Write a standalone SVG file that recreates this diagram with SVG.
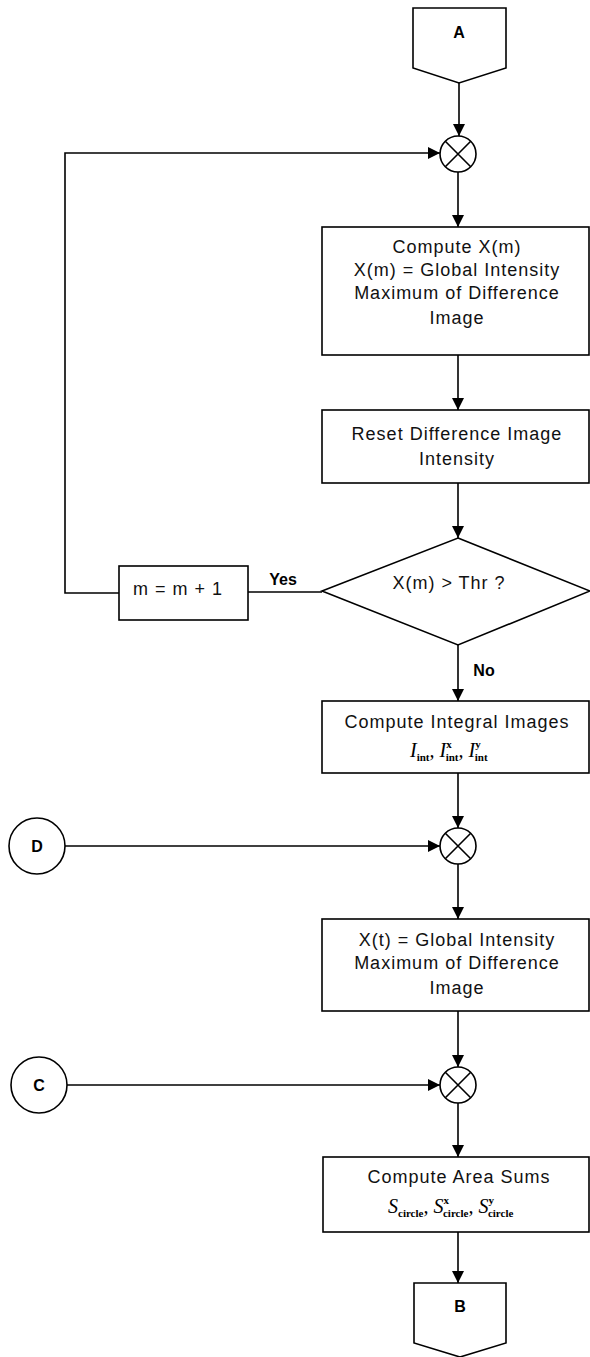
<svg xmlns="http://www.w3.org/2000/svg" width="590" height="1357" viewBox="0 0 590 1357">
<style>
.s{fill:#fff;stroke:#000;stroke-width:1.6}
.c{fill:none;stroke:#000;stroke-width:1.6}
.t{font-family:"Liberation Sans",Arial,sans-serif;font-size:18px;letter-spacing:1px;fill:#111;text-anchor:middle}
.b{font-family:"Liberation Sans",Arial,sans-serif;font-size:16px;font-weight:bold;fill:#000;text-anchor:middle}
.m{font-family:"Liberation Serif","Times New Roman",serif;font-style:italic;font-size:20px;fill:#000}
.sub{font-size:11px;font-style:normal;font-weight:bold}
</style>
<defs>
<marker id="ar" viewBox="0 0 12 12" refX="12" refY="6" markerWidth="12" markerHeight="12" markerUnits="userSpaceOnUse" orient="auto">
<path d="M0,0 L12,6 L0,12 Z" fill="#000"/>
</marker>
</defs>
<rect width="590" height="1357" fill="#fff"/>
<g id="connectors">
<path class="c" d="M459,83 V136" marker-end="url(#ar)"/>
<path class="c" d="M119,593 H65 V153 H440" marker-end="url(#ar)"/>
<path class="c" d="M458,172 V227" marker-end="url(#ar)"/>
<path class="c" d="M458,355 V410" marker-end="url(#ar)"/>
<path class="c" d="M458,483 V538" marker-end="url(#ar)"/>
<path class="c" d="M322,592 H248"/>
<path class="c" d="M458,645 V701" marker-end="url(#ar)"/>
<path class="c" d="M458,773 V828" marker-end="url(#ar)"/>
<path class="c" d="M65,846 H440" marker-end="url(#ar)"/>
<path class="c" d="M458,864 V919" marker-end="url(#ar)"/>
<path class="c" d="M458,1011 V1067" marker-end="url(#ar)"/>
<path class="c" d="M67,1085 H440" marker-end="url(#ar)"/>
<path class="c" d="M458,1103 V1157" marker-end="url(#ar)"/>
<path class="c" d="M458,1232 V1283" marker-end="url(#ar)"/>
<text class="b" x="283" y="585">Yes</text>
<text class="b" x="484" y="676">No</text>
</g>
<g id="offpageA">
<path class="s" d="M413,8 H506 V68 L459,83 L413,68 Z"/>
<text class="b" x="459" y="38">A</text>
</g>
<g id="junction1">
<circle class="s" cx="458" cy="154" r="18"/>
<path class="c" d="M445.3,141.3 L470.7,166.7 M470.7,141.3 L445.3,166.7"/>
</g>
<g id="computeXm">
<rect class="s" x="322" y="227" width="267" height="128"/>
<text class="t" x="457" y="253">Compute X(m)</text>
<text class="t" x="457" y="276">X(m) = Global Intensity</text>
<text class="t" x="457" y="299">Maximum of Difference</text>
<text class="t" x="457" y="324">Image</text>
</g>
<g id="reset">
<rect class="s" x="322" y="410" width="267" height="73"/>
<text class="t" x="457" y="440">Reset Difference Image</text>
<text class="t" x="457" y="465">Intensity</text>
</g>
<g id="decision">
<path class="s" d="M458,538 L590,591 L458,645 L322,591 Z"/>
<text class="t" x="449" y="589">X(m) &gt; Thr ?</text>
</g>
<g id="increment">
<rect class="s" x="119" y="566" width="129" height="54"/>
<text class="t" x="178" y="595">m = m + 1</text>
</g>
<g id="integral">
<rect class="s" x="322" y="701" width="267" height="72"/>
<text class="t" x="457" y="728">Compute Integral Images</text>
<text class="m" x="410" y="757">I<tspan class="sub" dy="4">int</tspan><tspan dy="-4">, I</tspan><tspan class="sub" dy="-9">x</tspan><tspan class="sub" dx="-6" dy="13">int</tspan><tspan dy="-4">, I</tspan><tspan class="sub" dy="-9">y</tspan><tspan class="sub" dx="-6" dy="13">int</tspan></text>
</g>
<g id="connectorD">
<circle class="s" cx="37" cy="846" r="28"/>
<text class="b" x="37" y="852">D</text>
</g>
<g id="junction2">
<circle class="s" cx="458" cy="846" r="18"/>
<path class="c" d="M445.3,833.3 L470.7,858.7 M470.7,833.3 L445.3,858.7"/>
</g>
<g id="computeXt">
<rect class="s" x="322" y="919" width="267" height="92"/>
<text class="t" x="457" y="946">X(t) = Global Intensity</text>
<text class="t" x="457" y="969">Maximum of Difference</text>
<text class="t" x="457" y="994">Image</text>
</g>
<g id="connectorC">
<circle class="s" cx="39" cy="1085" r="28"/>
<text class="b" x="39" y="1091">C</text>
</g>
<g id="junction3">
<circle class="s" cx="458" cy="1085" r="18"/>
<path class="c" d="M445.3,1072.3 L470.7,1097.7 M470.7,1072.3 L445.3,1097.7"/>
</g>
<g id="areaSums">
<rect class="s" x="323" y="1157" width="266" height="75"/>
<text class="t" x="459" y="1183">Compute Area Sums</text>
<text class="m" x="388" y="1213">S<tspan class="sub" dy="4">circle</tspan><tspan dy="-4">, S</tspan><tspan class="sub" dy="-9">x</tspan><tspan class="sub" dx="-6" dy="13">circle</tspan><tspan dy="-4">, S</tspan><tspan class="sub" dy="-9">y</tspan><tspan class="sub" dx="-6" dy="13">circle</tspan></text>
</g>
<g id="offpageB">
<path class="s" d="M414,1283 H506 V1343 L460,1357 L414,1343 Z"/>
<text class="b" x="460" y="1312">B</text>
</g>
</svg>
